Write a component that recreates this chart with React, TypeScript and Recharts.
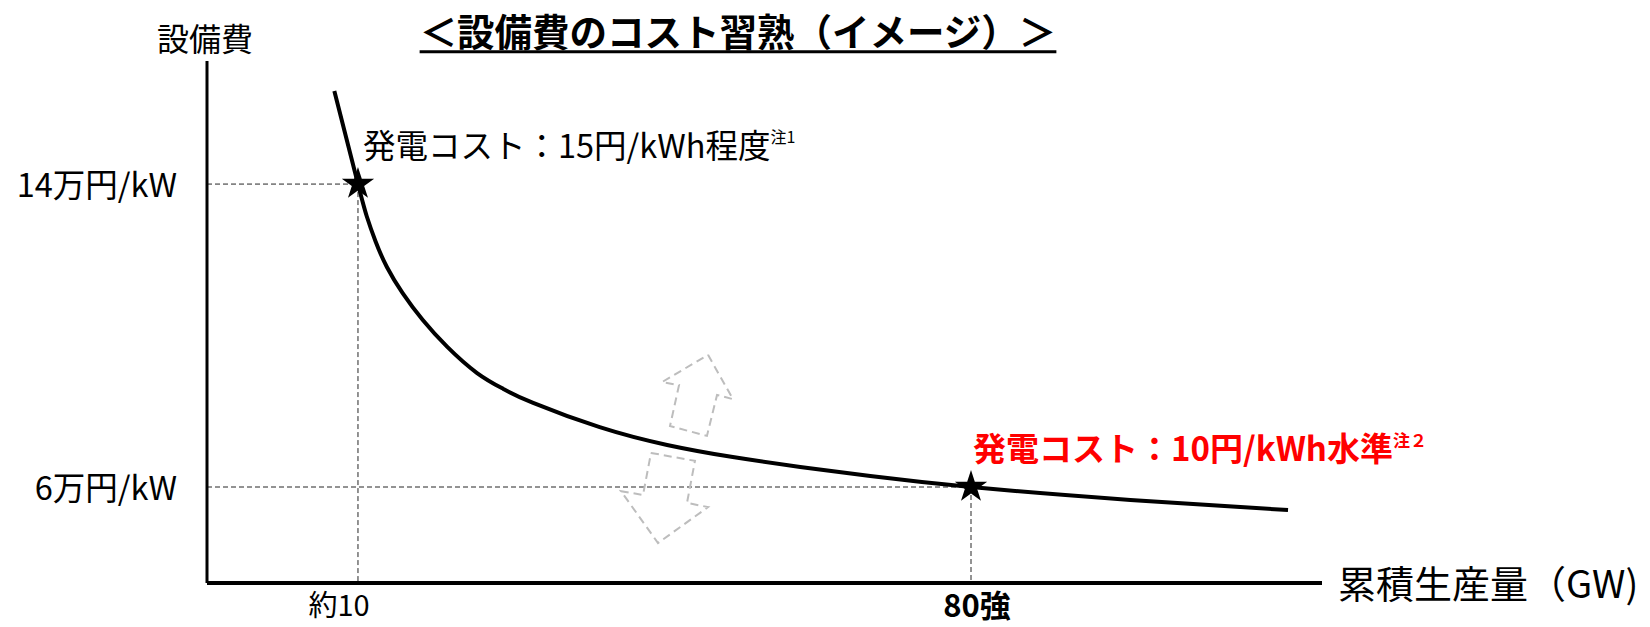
import React from "react";
import {
  ComposedChart,
  Line,
  Scatter,
  XAxis,
  YAxis,
  ReferenceLine,
} from "recharts";

// ---- data ----
const curveX = [7.3, 10, 11, 12, 13.3, 15.1, 17.4, 20.2, 23.6, 26.6, 30, 37.6, 45.3, 52.8, 60.5, 68.5, 80, 98.2, 116.2];
const curveY = [16.46, 14, 13.15, 12.49, 11.81, 11.12, 10.41, 9.7, 9.01, 8.59, 8.22, 7.58, 7.11, 6.79, 6.53, 6.29, 6, 5.66, 5.39];

const starX = [10, 80];
const starY = [14, 6];

const xTicks = [10, 80];
const xTickLabels = ["約10", "80強"];
const yTicks = [6, 14];
const yTickLabels = ["6万円/kW", "14万円/kW"];

const upArrowX = [49.97, 52.82, 51.0, 49.85, 45.63, 46.66, 44.72, 49.97];
const upArrowY = [9.49, 8.32, 8.43, 7.35, 7.61, 8.69, 8.77, 9.49];
const downArrowX = [43.46, 48.48, 47.57, 49.97, 44.26, 40.03, 42.55, 43.46];
const downArrowY = [6.9, 6.69, 5.58, 5.47, 4.52, 5.89, 5.79, 6.9];

const X_DOMAIN: [number, number] = [-7.24, 120.08];
const Y_DOMAIN: [number, number] = [3.465, 17.25];

const zip = (xs: number[], ys: number[]) => xs.map((x, i) => ({ x, y: ys[i] }));
const curveData = zip(curveX, curveY);
const starData = zip(starX, starY);
const upArrowData = zip(upArrowX, upArrowY);
const downArrowData = zip(downArrowX, downArrowY);

const FONT = '"Noto Sans CJK JP", "Noto Sans", sans-serif';

const StarShape = (props: any) => {
  const { cx, cy } = props;
  const R = 17;
  const r = R * 0.382;
  const pts: string[] = [];
  for (let i = 0; i < 10; i++) {
    const rad = i % 2 === 0 ? R : r;
    const a = -Math.PI / 2 + (i * Math.PI) / 5;
    pts.push(`${cx + rad * Math.cos(a)},${cy + rad * Math.sin(a)}`);
  }
  return <polygon points={pts.join(" ")} fill="#000" />;
};

const YTick = (props: any) => {
  const { y, payload } = props;
  const idx = yTicks.indexOf(payload.value);
  return (
    <text
      x={177}
      y={y - 2}
      textAnchor="end"
      dominantBaseline="central"
      fontFamily={FONT}
      fontSize={32.5}
      fill="#000"
    >
      {yTickLabels[idx]}
    </text>
  );
};

const XTick = (props: any) => {
  const { x, payload } = props;
  const idx = xTicks.indexOf(payload.value);
  const bold = idx === 1;
  const dx = idx === 0 ? -19 : 6;
  return (
    <text
      x={x + dx}
      y={603}
      textAnchor="middle"
      dominantBaseline="central"
      fontFamily={FONT}
      fontSize={bold ? 31 : 29}
      fontWeight={bold ? 700 : 400}
      fill="#000"
    >
      {xTickLabels[idx]}
    </text>
  );
};

const abs = (left: number, top: number, extra: React.CSSProperties = {}): React.CSSProperties => ({
  position: "absolute",
  left,
  top,
  whiteSpace: "nowrap",
  lineHeight: 1,
  fontFamily: FONT,
  color: "#000",
  ...extra,
});

export default function App() {
  return (
    <div style={{ position: "absolute", left: 0, top: 0, width: 1650, height: 627, background: "#fff", overflow: "hidden" }}>
      <ComposedChart
        width={1650}
        height={627}
        margin={{ top: 61, right: 328, bottom: 0, left: 0 }}
      >
        <XAxis
          type="number"
          dataKey="x"
          domain={X_DOMAIN}
          ticks={xTicks}
          height={44}
          tickLine={false}
          axisLine={{ stroke: "#000", strokeWidth: 4 }}
          tick={<XTick />}
          allowDataOverflow
        />
        <YAxis
          type="number"
          dataKey="y"
          domain={Y_DOMAIN}
          ticks={yTicks}
          width={207}
          tickLine={false}
          axisLine={{ stroke: "#000", strokeWidth: 3 }}
          tick={<YTick />}
          allowDataOverflow
        />
        <ReferenceLine
          segment={[{ x: X_DOMAIN[0], y: starY[0] }, { x: starX[0], y: starY[0] }]}
          stroke="#262626"
          strokeWidth={1}
          strokeDasharray="5 3"
          ifOverflow="visible"
        />
        <ReferenceLine
          segment={[{ x: starX[0], y: starY[0] }, { x: starX[0], y: Y_DOMAIN[0] }]}
          stroke="#262626"
          strokeWidth={1}
          strokeDasharray="5 3"
          ifOverflow="visible"
        />
        <ReferenceLine
          segment={[{ x: X_DOMAIN[0], y: starY[1] }, { x: starX[1], y: starY[1] }]}
          stroke="#262626"
          strokeWidth={1}
          strokeDasharray="5 3"
          ifOverflow="visible"
        />
        <ReferenceLine
          segment={[{ x: starX[1], y: starY[1] }, { x: starX[1], y: Y_DOMAIN[0] }]}
          stroke="#262626"
          strokeWidth={1}
          strokeDasharray="5 3"
          ifOverflow="visible"
        />
        <Line
          data={upArrowData}
          dataKey="y"
          type="linear"
          stroke="#bdbdbd"
          strokeWidth={2}
          strokeDasharray="8 5"
          dot={false}
          activeDot={false}
          isAnimationActive={false}
        />
        <Line
          data={downArrowData}
          dataKey="y"
          type="linear"
          stroke="#bdbdbd"
          strokeWidth={2}
          strokeDasharray="8 5"
          dot={false}
          activeDot={false}
          isAnimationActive={false}
        />
        <Line
          data={curveData}
          dataKey="y"
          type="natural"
          stroke="#000"
          strokeWidth={4}
          dot={false}
          activeDot={false}
          isAnimationActive={false}
        />
        <Scatter data={starData} dataKey="y" shape={<StarShape />} isAnimationActive={false} />
      </ComposedChart>

      <div style={abs(205, 37, { transform: "translate(-50%,-50%)", fontSize: 32 })}>設備費</div>
      <div
        style={abs(738, 30, {
          transform: "translate(-50%,-50%)",
          fontSize: 37.5,
          fontWeight: 700,
          textDecoration: "underline",
          textDecorationThickness: 3,
          textUnderlineOffset: 4,
        })}
      >
        ＜設備費のコスト習熟（イメージ）＞
      </div>
      <div style={abs(363, 144, { transform: "translateY(-50%)", fontSize: 32.5 })}>
        発電コスト：15円/kWh程度
        <span style={{ fontSize: 16, verticalAlign: "top" }}>注1</span>
      </div>
      <div style={abs(973, 447, { transform: "translateY(-50%)", fontSize: 33, fontWeight: 700, color: "#ff0000" })}>
        発電コスト：10円/kWh水準
        <span style={{ fontSize: 17, verticalAlign: "top" }}>注２</span>
      </div>
      <div style={abs(1338, 582, { transform: "translateY(-50%)", fontSize: 38 })}>累積生産量（GW)</div>
    </div>
  );
}
